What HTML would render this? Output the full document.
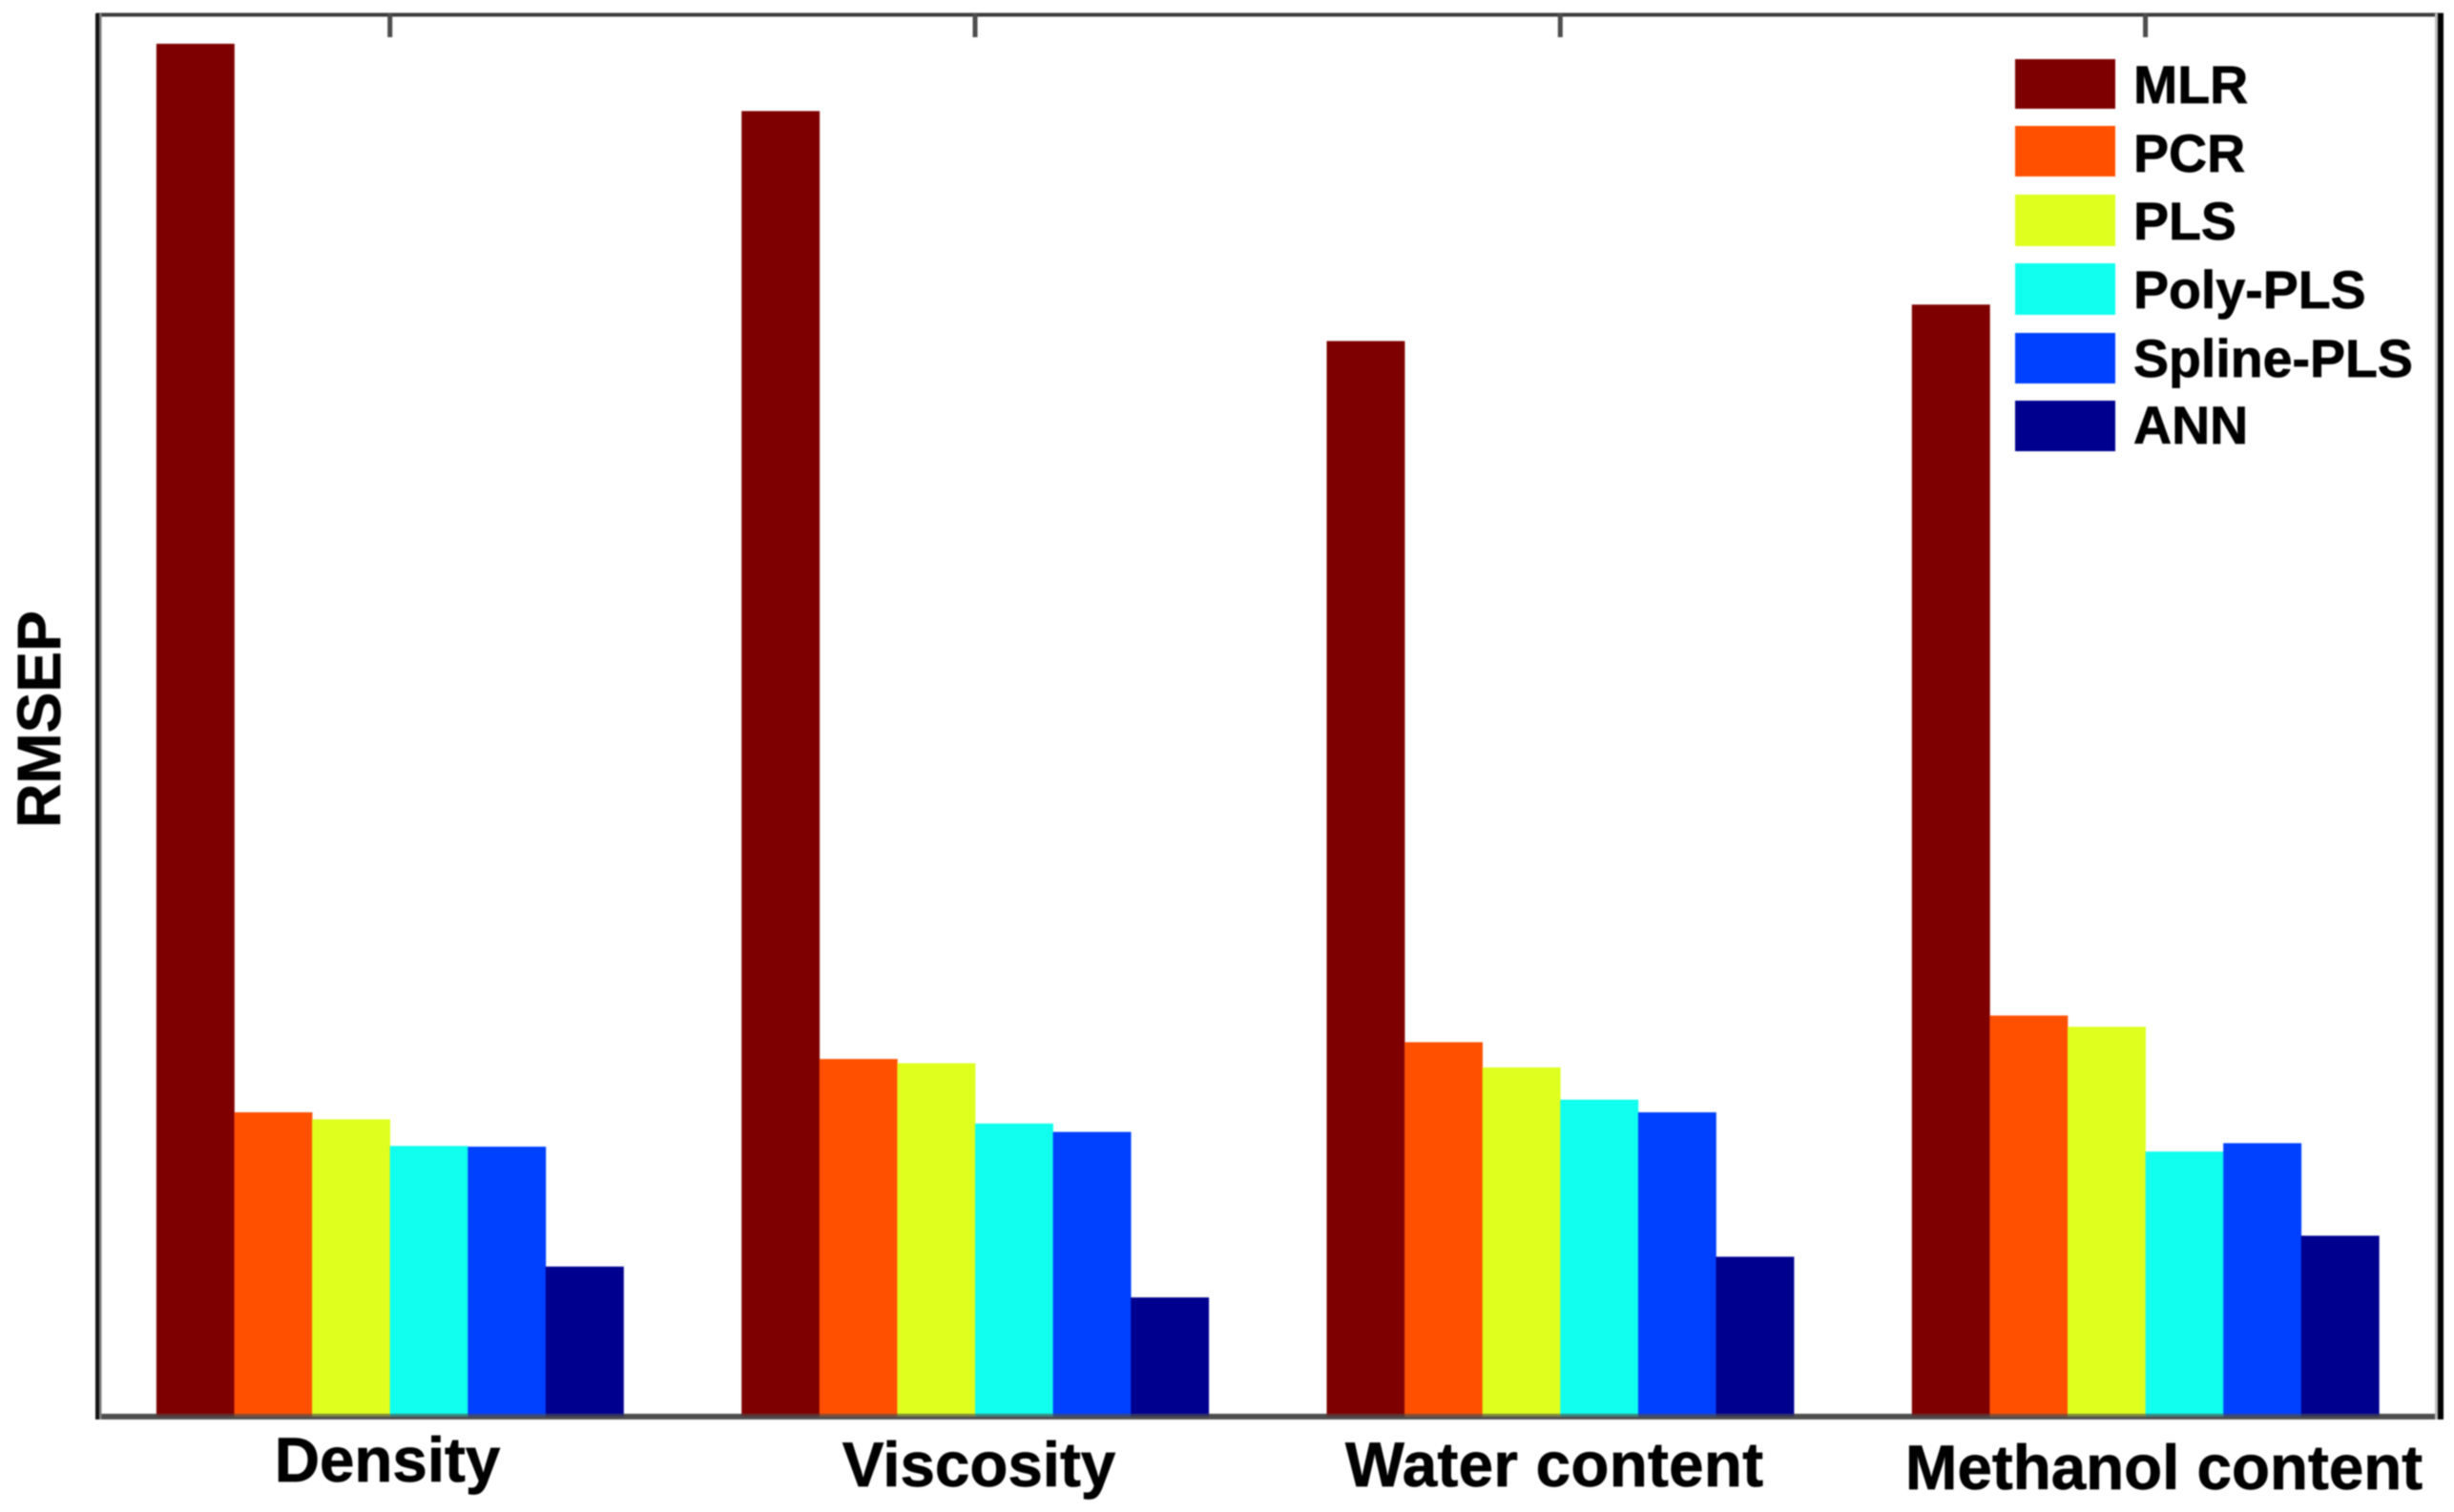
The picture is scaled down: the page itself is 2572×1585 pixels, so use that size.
<!DOCTYPE html>
<html lang="en">
<head>
<meta charset="utf-8">
<title>RMSEP by property and regression method</title>
<style>
  html, body { margin: 0; padding: 0; background: #fff; }
  body { width: 2572px; height: 1585px; overflow: hidden; }
  #chart { display: block; filter: blur(0.9px); }
  text { font-family: "Liberation Sans", sans-serif; font-weight: bold; fill: #000; stroke: #000; stroke-width: 0.7px; }
  .legend-label { font-size: 55.5px; }
  .cat-label { font-size: 65.5px; text-anchor: middle; }
</style>
</head>
<body>
<svg id="chart" xmlns="http://www.w3.org/2000/svg" width="2572" height="1585" viewBox="0 0 2572 1585">
  <rect x="0" y="0" width="2572" height="1585" fill="#ffffff"/>
  <g id="bars"></g>

  <g>
    <rect x="101" y="13.5" width="2460" height="4" fill="#3c3c3c"/>
    <rect x="101" y="1482" width="2460" height="6" fill="#4e4e4e"/>
    <rect x="104" y="14" width="2.5" height="1474" fill="#808080"/>
    <rect x="100" y="14" width="4" height="1474" fill="#111111"/>
    <rect x="2552" y="14" width="3" height="1474" fill="#bdbdbd"/>
    <rect x="2555" y="14" width="6" height="1474" fill="#000000"/>
  </g>
  <g id="ticks"></g>
  <g id="base-shade"></g>

  <text font-size="64" text-anchor="middle" transform="translate(63 754) rotate(-90)">RMSEP</text>

  <text class="cat-label" x="406" y="1553">Density</text>
  <text class="cat-label" x="1026" y="1558">Viscosity</text>
  <text class="cat-label" x="1629" y="1558" textLength="438" lengthAdjust="spacing">Water content</text>
  <text class="cat-label" x="2268" y="1561">Methanol content</text>

  <g>
    <g>
      <rect x="2112" y="62" width="105" height="52" fill="#7f0000"/>
      <text class="legend-label" x="2236" y="108">MLR</text>
    </g>
    <g>
      <rect x="2112" y="132" width="105" height="53" fill="#ff5000"/>
      <text class="legend-label" x="2236" y="180">PCR</text>
    </g>
    <g>
      <rect x="2112" y="204" width="105" height="54" fill="#dfff1f"/>
      <text class="legend-label" x="2236" y="251">PLS</text>
    </g>
    <g>
      <rect x="2112" y="276" width="105" height="54" fill="#10ffee"/>
      <text class="legend-label" x="2236" y="323">Poly-PLS</text>
    </g>
    <g>
      <rect x="2112" y="349" width="105" height="53" fill="#0040ff"/>
      <text class="legend-label" x="2236" y="395">Spline-PLS</text>
    </g>
    <g>
      <rect x="2112" y="420" width="105" height="53" fill="#00008f"/>
      <text class="legend-label" x="2236" y="465">ANN</text>
    </g>
  </g>
</svg>
<script>
const categories = ["Density", "Viscosity", "Water content", "Methanol content"];
const seriesNames = ["MLR", "PCR", "PLS", "Poly-PLS", "Spline-PLS", "ANN"];
const mlrValues = [0.979, 0.931, 0.767, 0.793];
const pcrValues = [0.217, 0.255, 0.267, 0.286];
const plsValues = [0.212, 0.252, 0.249, 0.278];
const polyPlsValues = [0.193, 0.209, 0.226, 0.189];
const splinePlsValues = [0.1925, 0.203, 0.217, 0.195];
const annValues = [0.107, 0.085, 0.114, 0.129];
const seriesColors = ["#7f0000", "#ff5000", "#dfff1f", "#10ffee", "#0040ff", "#00008f"];

const seriesValues = [mlrValues, pcrValues, plsValues, polyPlsValues, splinePlsValues, annValues];
const SVG_NS = "http://www.w3.org/2000/svg";
const plotBaseY = 1485;
const plotHeight = 1470;
const firstCenterX = 408.7;
const categoryStep = 613.3;
const barWidth = 81.6;

function xCategory(i) { return firstCenterX + categoryStep * i; }
function xBar(i, j) { return xCategory(i) + (j - seriesNames.length / 2) * barWidth; }
function yValue(v) { return plotBaseY - v * plotHeight; }
function slug(s) { return s.toLowerCase().replace(/[^a-z0-9]+/g, "-"); }

const barsGroup = document.getElementById("bars");
const ticksGroup = document.getElementById("ticks");
const shadeGroup = document.getElementById("base-shade");

categories.forEach(function (cat, i) {
  const tick = document.createElementNS(SVG_NS, "rect");
  tick.setAttribute("x", xCategory(i) - 2.5);
  tick.setAttribute("y", 14);
  tick.setAttribute("width", 5);
  tick.setAttribute("height", 25);
  tick.setAttribute("fill", "#4c4c4c");
  
  
  ticksGroup.appendChild(tick);

  seriesNames.forEach(function (name, j) {
    const top = yValue(seriesValues[j][i]);
    const bar = document.createElementNS(SVG_NS, "rect");
    bar.setAttribute("x", xBar(i, j));
    bar.setAttribute("y", top);
    bar.setAttribute("width", barWidth + 0.3);
    bar.setAttribute("height", plotBaseY - top);
    bar.setAttribute("fill", seriesColors[j]);
    
    
    barsGroup.appendChild(bar);

    const shade = document.createElementNS(SVG_NS, "rect");
    shade.setAttribute("x", xBar(i, j));
    shade.setAttribute("y", 1482);
    shade.setAttribute("width", barWidth + 0.3);
    shade.setAttribute("height", 3);
    shade.setAttribute("fill", seriesColors[j]);
    shade.setAttribute("opacity", "0.35");
    
    
    shadeGroup.appendChild(shade);
  });
});
</script>
</body>
</html>
